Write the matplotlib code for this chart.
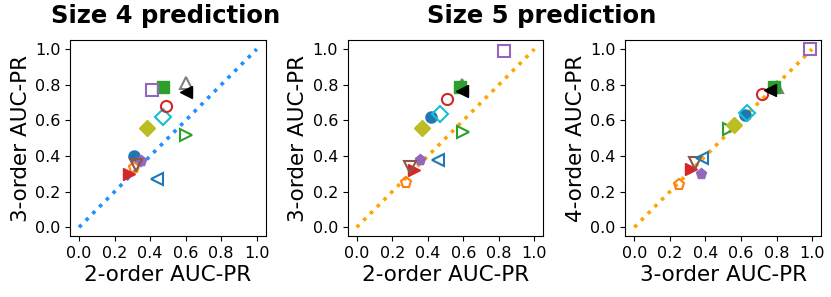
import matplotlib
matplotlib.use('Agg')
import matplotlib.pyplot as plt

# one entry per dataset: colour, marker, filled?
colors = ['tab:blue', 'tab:orange', 'tab:green', 'tab:red', 'tab:purple', 'tab:brown', 'tab:gray',
          'tab:olive', 'tab:cyan', 'tab:red', 'tab:green', 'tab:purple', 'black', 'tab:blue']
markers = ['o', 'p', '>', '>', 'p', 'v', '^', 'D', 'D', 'o', 's', 's', '<', '<']
filled = [True, False, False, True, True, False, False, True, False, False, True, False, True, False]

# size 4 prediction
s4_o2 = [0.31, 0.31, 0.60, 0.28, 0.35, 0.32, 0.60, 0.38, 0.47, 0.49, 0.47, 0.41, 0.60, 0.44]
s4_o3 = [0.40, 0.33, 0.52, 0.30, 0.37, 0.35, 0.81, 0.56, 0.62, 0.68, 0.785, 0.77, 0.76, 0.27]

# size 5 prediction
s5_o2 = [0.42, 0.28, 0.60, 0.32, 0.355, 0.30, 0.59, 0.37, 0.47, 0.51, 0.58, 0.83, 0.595, 0.46]
s5_o3 = [0.62, 0.25, 0.535, 0.32, 0.375, 0.34, 0.80, 0.56, 0.635, 0.72, 0.785, 0.99, 0.765, 0.38]
s5_o4 = [0.63, 0.24, 0.553, 0.325, 0.30, 0.36, 0.79, 0.574, 0.64, 0.748, 0.785, 1.0, 0.77, 0.387]

ticks = [0.0, 0.2, 0.4, 0.6, 0.8, 1.0]

fig = plt.figure(figsize=(8.31, 2.97), dpi=100)
ax1 = fig.add_axes([0.0844, 0.2047, 0.2353, 0.660])
ax2 = fig.add_axes([0.4185, 0.2047, 0.2353, 0.660])
ax3 = fig.add_axes([0.7526, 0.2047, 0.2353, 0.660])

panels = [(ax1, s4_o2, s4_o3, '#1e90ff', '2-order AUC-PR', '3-order AUC-PR'),
          (ax2, s5_o2, s5_o3, 'orange', '2-order AUC-PR', '3-order AUC-PR'),
          (ax3, s5_o3, s5_o4, 'orange', '3-order AUC-PR', '4-order AUC-PR')]

for ax, xs, ys, lc, xl, yl in panels:
    ax.plot([0, 1], [0, 1], linestyle=':', color=lc, linewidth=2.6, zorder=1)
    for i in range(len(xs)):
        if filled[i]:
            ax.plot(xs[i], ys[i], marker=markers[i], color=colors[i], markersize=8,
                    linestyle='none', zorder=2)
        else:
            ax.plot(xs[i], ys[i], marker=markers[i], markerfacecolor='none',
                    markeredgecolor=colors[i], markeredgewidth=1.5, markersize=8,
                    linestyle='none', zorder=2)
    ax.set_xlim(-0.05, 1.05)
    ax.set_ylim(-0.05, 1.05)
    ax.set_xticks(ticks)
    ax.set_yticks(ticks)
    ax.tick_params(labelsize=11.5)
    ax.set_xlabel(xl, fontsize=15.5, labelpad=3)
    ax.set_ylabel(yl, fontsize=15.5, labelpad=3)

fig.text(166 / 831, 0.945, 'Size 4 prediction', fontsize=17.5, fontweight='bold',
         ha='center', va='center')
fig.text(542 / 831, 0.945, 'Size 5 prediction', fontsize=17.5, fontweight='bold',
         ha='center', va='center')

plt.savefig('out.png', dpi=100)
